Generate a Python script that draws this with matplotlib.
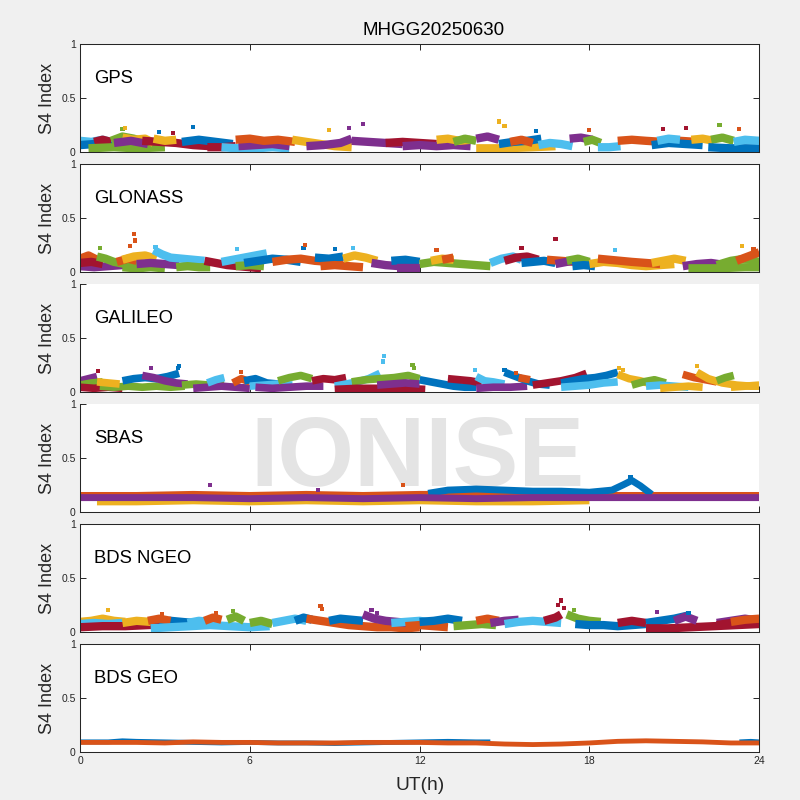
import matplotlib
matplotlib.use("Agg")
import matplotlib.pyplot as plt

plt.rcParams['font.family'] = ['Liberation Sans', 'DejaVu Sans']

TITLE = "MHGG20250630"
SYSTEMS = ["GPS", "GLONASS", "GALILEO", "SBAS", "BDS NGEO", "BDS GEO"]
X_TICKS = [0, 6, 12, 18, 24]
Y_TICKS = [0, 0.5, 1]
Y_TICK_LABELS = ["0", "0.5", "1"]
COLORS = ['#0072BD', '#D95319', '#EDB120', '#7E2F8E', '#77AC30', '#4DBEEE', '#A2142F']

# arcs: (colour index, UT hours, S4 values)
GPS_ARCS = [
    (5, [0, 0.4, 0.8, 1.2], [0.10, 0.09, 0.11, 0.08]),
    (0, [0, 0.5, 1.0, 1.4], [0.06, 0.07, 0.05, 0.06]),
    (6, [0.5, 0.8, 1.1], [0.09, 0.11, 0.09]),
    (4, [0.3, 1.2, 2.0, 3.0], [0.03, 0.04, 0.03, 0.04]),
    (4, [1.1, 1.5, 1.9, 2.3], [0.10, 0.14, 0.12, 0.09]),
    (2, [1.5, 1.9, 2.3, 2.6], [0.13, 0.11, 0.12, 0.08]),
    (3, [1.2, 1.8, 2.4], [0.08, 0.10, 0.07]),
    (6, [2.2, 2.8, 3.4, 4.0, 4.6], [0.10, 0.09, 0.08, 0.06, 0.05]),
    (2, [2.6, 3.0, 3.4], [0.12, 0.10, 0.11]),
    (0, [3.6, 4.2, 4.8, 5.4], [0.09, 0.11, 0.09, 0.07]),
    (6, [4.5, 5.0, 5.5], [0.04, 0.04, 0.05]),
    (5, [5.0, 5.6, 6.2, 6.8, 7.4], [0.04, 0.03, 0.03, 0.04, 0.03]),
    (3, [5.6, 6.2, 6.8, 7.4], [0.05, 0.06, 0.07, 0.05]),
    (1, [5.5, 6.0, 6.5, 7.0, 7.6], [0.11, 0.12, 0.10, 0.11, 0.09]),
    (2, [7.5, 8.0, 8.5, 9.0, 9.6], [0.11, 0.09, 0.07, 0.05, 0.04]),
    (3, [8.0, 8.6, 9.2, 9.6], [0.05, 0.06, 0.08, 0.12]),
    (3, [9.6, 10.2, 10.8, 11.4], [0.10, 0.09, 0.08, 0.07]),
    (6, [10.8, 11.4, 12.0, 12.6], [0.08, 0.09, 0.08, 0.07]),
    (3, [11.4, 12.0, 12.6, 13.2, 13.8], [0.05, 0.06, 0.05, 0.06, 0.05]),
    (2, [12.6, 13.0, 13.4, 13.8], [0.11, 0.12, 0.10, 0.11]),
    (4, [13.2, 13.6, 14.0], [0.09, 0.12, 0.10]),
    (3, [14.0, 14.4, 14.8], [0.12, 0.14, 0.11]),
    (2, [14.0, 15.0, 16.0, 16.8], [0.03, 0.03, 0.04, 0.05]),
    (0, [14.8, 15.3, 15.8, 16.3], [0.07, 0.09, 0.10, 0.12]),
    (1, [15.2, 15.6, 16.0], [0.09, 0.11, 0.08]),
    (5, [16.2, 16.6, 17.0, 17.4], [0.06, 0.08, 0.07, 0.05]),
    (3, [17.3, 17.7, 18.1], [0.12, 0.13, 0.11]),
    (4, [17.8, 18.1, 18.4], [0.09, 0.11, 0.08]),
    (5, [18.3, 18.7, 19.1], [0.04, 0.04, 0.05]),
    (1, [19.0, 19.5, 20.0, 20.6, 21.2, 21.8], [0.10, 0.11, 0.10, 0.09, 0.10, 0.09]),
    (0, [20.2, 20.8, 21.4, 22.0], [0.06, 0.08, 0.07, 0.06]),
    (5, [20.4, 20.8, 21.2], [0.10, 0.12, 0.11]),
    (2, [21.6, 22.0, 22.4], [0.11, 0.12, 0.10]),
    (4, [22.3, 22.7, 23.1], [0.11, 0.13, 0.10]),
    (0, [22.2, 23.0, 24.0], [0.04, 0.03, 0.03]),
    (5, [23.1, 23.5, 24.0], [0.09, 0.11, 0.10]),
]
GPS_OUT_T = [1.5, 1.6, 4.0, 8.8, 9.5, 10.0, 14.8, 15.0, 16.1, 18.0, 20.6, 21.4, 22.6, 23.3, 3.3, 2.8]
GPS_OUT_V = [0.21, 0.22, 0.23, 0.20, 0.22, 0.26, 0.28, 0.24, 0.19, 0.20, 0.21, 0.22, 0.25, 0.21, 0.17, 0.18]
GPS_OUT_C = [4, 2, 0, 2, 3, 3, 2, 2, 0, 1, 6, 6, 4, 1, 6, 0]

GLONASS_ARCS = [
    (1, [0, 0.3, 0.6], [0.12, 0.15, 0.11]),
    (3, [0, 0.5, 1.0, 1.5, 2.0], [0.05, 0.04, 0.05, 0.06, 0.05]),
    (6, [0, 0.4, 0.8], [0.08, 0.09, 0.07]),
    (4, [0.6, 0.9, 1.2, 1.6, 2.0], [0.14, 0.12, 0.09, 0.07, 0.06]),
    (4, [1.5, 2.0, 2.5, 3.0], [0.04, 0.03, 0.04, 0.03]),
    (1, [1.3, 1.7, 2.0], [0.09, 0.12, 0.10]),
    (2, [1.5, 1.9, 2.3, 2.7], [0.11, 0.14, 0.15, 0.12]),
    (3, [2.0, 2.5, 3.0, 3.5], [0.07, 0.08, 0.07, 0.06]),
    (5, [2.6, 2.9, 3.2, 3.6, 4.0, 4.4], [0.20, 0.16, 0.13, 0.12, 0.11, 0.10]),
    (4, [3.4, 3.8, 4.2, 4.6], [0.04, 0.05, 0.04, 0.04]),
    (6, [4.4, 4.8, 5.2, 5.6, 6.0, 6.4], [0.10, 0.08, 0.06, 0.05, 0.04, 0.03]),
    (5, [5.0, 5.4, 5.8, 6.2, 6.6], [0.09, 0.11, 0.13, 0.15, 0.17]),
    (4, [5.5, 6.0, 6.5], [0.05, 0.06, 0.05]),
    (0, [5.8, 6.3, 6.8, 7.3, 7.8], [0.08, 0.10, 0.12, 0.11, 0.09]),
    (1, [6.8, 7.3, 7.8, 8.3, 8.8, 9.3], [0.09, 0.11, 0.12, 0.10, 0.09, 0.08]),
    (0, [8.3, 8.8, 9.3], [0.13, 0.12, 0.14]),
    (1, [8.5, 9.0, 9.5, 10.0], [0.05, 0.06, 0.05, 0.04]),
    (2, [9.3, 9.7, 10.1, 10.5], [0.12, 0.15, 0.13, 0.10]),
    (3, [10.3, 10.8, 11.3, 11.8], [0.08, 0.06, 0.05, 0.04]),
    (0, [11.0, 11.5, 12.0], [0.10, 0.11, 0.09]),
    (3, [11.2, 11.6, 12.0], [0.03, 0.03, 0.03]),
    (4, [12.0, 12.5, 13.0, 13.5, 14.0, 14.5], [0.07, 0.09, 0.08, 0.07, 0.06, 0.05]),
    (2, [12.4, 12.8, 13.2], [0.10, 0.12, 0.11]),
    (1, [12.8, 13.2], [0.11, 0.13]),
    (5, [14.5, 14.9, 15.3, 15.6], [0.08, 0.12, 0.14, 0.11]),
    (6, [15.0, 15.4, 15.8, 16.2], [0.10, 0.13, 0.14, 0.11]),
    (0, [15.6, 16.0, 16.4, 16.8], [0.08, 0.09, 0.10, 0.08]),
    (1, [16.5, 17.0, 17.5], [0.11, 0.10, 0.09]),
    (3, [16.8, 17.2, 17.6, 18.0], [0.07, 0.09, 0.11, 0.08]),
    (4, [17.2, 17.6, 18.0], [0.10, 0.12, 0.09]),
    (0, [17.4, 17.8, 18.2], [0.05, 0.06, 0.05]),
    (2, [18.0, 18.5, 19.0, 19.5, 20.0, 20.5, 21.0], [0.07, 0.09, 0.08, 0.06, 0.05, 0.06, 0.07]),
    (1, [18.3, 18.7, 19.1, 19.5, 20.0, 20.5], [0.12, 0.11, 0.10, 0.09, 0.08, 0.07]),
    (2, [20.2, 20.6, 21.0, 21.4], [0.08, 0.10, 0.12, 0.10]),
    (3, [21.3, 21.8, 22.3, 22.8], [0.05, 0.07, 0.08, 0.06]),
    (4, [21.5, 22.5, 23.5, 24.0], [0.03, 0.03, 0.04, 0.04]),
    (4, [22.5, 23.0, 23.5, 24.0], [0.06, 0.10, 0.12, 0.09]),
    (1, [23.2, 23.6, 24.0], [0.10, 0.14, 0.18]),
]
GLONASS_OUT_T = [1.9, 1.95, 1.77, 7.9, 7.95, 9.66, 5.56, 12.6, 15.6, 16.8, 18.9, 23.4, 23.8, 0.72, 2.67, 9.0]
GLONASS_OUT_V = [0.35, 0.29, 0.24, 0.22, 0.25, 0.22, 0.21, 0.20, 0.22, 0.30, 0.20, 0.24, 0.21, 0.22, 0.23, 0.21]
GLONASS_OUT_C = [1, 1, 1, 0, 1, 5, 5, 1, 6, 6, 5, 2, 1, 4, 5, 0]

GALILEO_ARCS = [
    (3, [0, 0.3, 0.6], [0.10, 0.12, 0.14]),
    (4, [0, 0.4, 0.8], [0.06, 0.08, 0.09]),
    (6, [0, 0.5, 1.0, 1.5], [0.04, 0.03, 0.04, 0.03]),
    (4, [0.7, 1.2, 1.7, 2.2, 2.7, 3.2, 3.7], [0.05, 0.04, 0.05, 0.04, 0.05, 0.04, 0.05]),
    (2, [0.6, 1.0, 1.4], [0.09, 0.08, 0.07]),
    (0, [1.5, 1.9, 2.3, 2.7, 3.1, 3.5], [0.10, 0.12, 0.13, 0.12, 0.14, 0.17]),
    (3, [2.2, 2.6, 3.0, 3.4, 3.8], [0.15, 0.13, 0.10, 0.08, 0.07]),
    (4, [3.6, 4.1, 4.6, 5.1], [0.06, 0.07, 0.06, 0.07]),
    (3, [4.0, 4.5, 5.0, 5.5, 6.0], [0.03, 0.04, 0.05, 0.04, 0.03]),
    (5, [4.5, 4.8, 5.1], [0.08, 0.11, 0.13]),
    (1, [5.4, 5.7, 6.0], [0.08, 0.12, 0.09]),
    (0, [5.8, 6.2, 6.6, 7.0], [0.10, 0.12, 0.08, 0.07]),
    (5, [6.0, 6.5, 7.0, 7.5], [0.05, 0.06, 0.07, 0.06]),
    (3, [6.2, 6.8, 7.4, 8.0, 8.6], [0.04, 0.03, 0.04, 0.05, 0.05]),
    (4, [7.0, 7.4, 7.8, 8.2], [0.10, 0.13, 0.15, 0.12]),
    (6, [8.2, 8.6, 9.0, 9.4], [0.10, 0.12, 0.11, 0.13]),
    (5, [9.0, 9.4, 9.8, 10.2, 10.6], [0.05, 0.07, 0.09, 0.12, 0.17]),
    (4, [9.6, 10.1, 10.6, 11.1, 11.6, 12.0], [0.09, 0.11, 0.12, 0.13, 0.15, 0.12]),
    (6, [9.0, 9.8, 10.6, 11.4, 12.2], [0.02, 0.03, 0.03, 0.03, 0.02]),
    (3, [10.5, 11.0, 11.5, 12.0], [0.06, 0.07, 0.08, 0.07]),
    (0, [12.0, 12.4, 12.8, 13.2, 13.6, 14.0], [0.11, 0.09, 0.07, 0.05, 0.04, 0.04]),
    (6, [13.0, 13.4, 13.8, 14.2], [0.12, 0.11, 0.10, 0.08]),
    (5, [14.0, 14.3, 14.6, 15.0], [0.14, 0.10, 0.09, 0.07]),
    (3, [14.0, 14.6, 15.2, 15.8], [0.03, 0.04, 0.04, 0.05]),
    (0, [15.0, 15.4, 15.8, 16.2, 16.6], [0.18, 0.14, 0.10, 0.07, 0.06]),
    (1, [15.5, 15.9], [0.13, 0.11]),
    (6, [16.0, 16.5, 17.0, 17.5, 17.9], [0.06, 0.08, 0.10, 0.13, 0.17]),
    (0, [17.0, 17.4, 17.8, 18.2, 18.6, 19.0], [0.08, 0.10, 0.12, 0.13, 0.15, 0.18]),
    (5, [17.0, 17.5, 18.0, 18.5, 19.0], [0.04, 0.05, 0.06, 0.08, 0.09]),
    (2, [19.0, 19.4, 19.8, 20.2], [0.16, 0.12, 0.10, 0.07]),
    (4, [19.5, 19.9, 20.3, 20.7], [0.06, 0.09, 0.11, 0.08]),
    (5, [20.0, 20.5, 21.0, 21.5], [0.05, 0.06, 0.05, 0.04]),
    (2, [20.5, 21.0, 21.5, 22.0], [0.03, 0.04, 0.05, 0.04]),
    (1, [21.3, 21.7, 22.1, 22.5], [0.16, 0.13, 0.11, 0.09]),
    (2, [21.8, 22.2, 22.7, 23.2, 23.7, 24.0], [0.18, 0.12, 0.08, 0.06, 0.05, 0.05]),
    (4, [22.5, 22.8, 23.1], [0.10, 0.13, 0.15]),
    (2, [23.0, 23.5, 24.0], [0.04, 0.05, 0.06]),
]
GALILEO_OUT_T = [10.75, 10.7, 11.75, 11.8, 3.5, 3.45, 2.5, 0.65, 5.7, 13.95, 19.05, 19.2, 21.8, 15.4, 15.0]
GALILEO_OUT_V = [0.33, 0.28, 0.25, 0.22, 0.24, 0.22, 0.22, 0.19, 0.18, 0.20, 0.22, 0.20, 0.24, 0.17, 0.20]
GALILEO_OUT_C = [5, 5, 4, 4, 0, 0, 3, 6, 1, 5, 2, 2, 2, 1, 0]

SBAS_ARCS = [
    (2, [0.6, 2, 4, 6, 8, 10, 12, 14, 16, 18.0], [0.09, 0.09, 0.10, 0.09, 0.10, 0.09, 0.10, 0.09, 0.09, 0.10]),
    (1, [0, 2, 4, 6, 8, 10, 12, 14, 16, 18, 20, 22, 24], [0.15, 0.15, 0.16, 0.15, 0.16, 0.15, 0.16, 0.16, 0.15, 0.15, 0.15, 0.15, 0.15]),
    (0, [12.3, 13, 14, 15, 16, 17, 18, 18.8, 19.2, 19.5, 19.8, 20.2], [0.17, 0.20, 0.21, 0.20, 0.19, 0.19, 0.18, 0.20, 0.25, 0.29, 0.24, 0.16]),
    (3, [0, 2, 4, 6, 8, 10, 12, 14, 16, 18, 20, 22, 24], [0.13, 0.13, 0.13, 0.12, 0.13, 0.12, 0.13, 0.12, 0.13, 0.13, 0.13, 0.13, 0.13]),
]
SBAS_OUT_T = [4.6, 11.4, 8.4, 19.45]
SBAS_OUT_V = [0.25, 0.25, 0.20, 0.32]
SBAS_OUT_C = [3, 1, 3, 0]

BDSN_ARCS = [
    (2, [0, 0.4, 0.8, 1.2, 1.6], [0.09, 0.10, 0.12, 0.10, 0.09]),
    (5, [0, 0.5, 1.0, 1.5, 2.0], [0.07, 0.08, 0.07, 0.08, 0.06]),
    (6, [0, 0.8, 1.6, 2.4, 3.2, 4.0], [0.04, 0.05, 0.05, 0.06, 0.07, 0.08]),
    (2, [1.5, 2.0, 2.5], [0.08, 0.10, 0.09]),
    (0, [2.8, 3.2, 3.6, 4.0], [0.08, 0.10, 0.09, 0.08]),
    (1, [2.4, 2.8, 3.2], [0.10, 0.12, 0.10]),
    (5, [2.5, 3.2, 3.9, 4.6, 5.3, 6.0, 6.7], [0.03, 0.04, 0.05, 0.06, 0.05, 0.04, 0.05]),
    (5, [3.8, 4.2, 4.6], [0.08, 0.10, 0.09]),
    (1, [4.4, 4.7, 5.0], [0.10, 0.13, 0.11]),
    (4, [5.2, 5.5, 5.8], [0.11, 0.14, 0.10]),
    (4, [6.0, 6.4, 6.8], [0.08, 0.10, 0.07]),
    (5, [6.8, 7.2, 7.6, 8.0], [0.08, 0.10, 0.12, 0.10]),
    (0, [7.6, 7.9, 8.2], [0.10, 0.13, 0.11]),
    (1, [8.0, 8.5, 9.0, 9.5, 10.0, 10.5, 11.0, 11.5, 12.0], [0.12, 0.10, 0.08, 0.06, 0.05, 0.04, 0.04, 0.03, 0.04]),
    (0, [8.8, 9.2, 9.6, 10.0], [0.10, 0.12, 0.11, 0.10]),
    (3, [10.0, 10.4, 10.8, 11.2, 11.6], [0.16, 0.12, 0.10, 0.09, 0.08]),
    (5, [11.0, 11.5, 12.0, 12.5], [0.08, 0.09, 0.10, 0.08]),
    (1, [11.5, 12.0, 12.5, 13.0], [0.05, 0.06, 0.05, 0.04]),
    (0, [12.0, 12.5, 13.0, 13.5], [0.09, 0.10, 0.12, 0.10]),
    (4, [13.2, 13.7, 14.2, 14.7], [0.05, 0.06, 0.07, 0.06]),
    (1, [14.0, 14.4, 14.8], [0.10, 0.12, 0.10]),
    (3, [14.5, 15.0, 15.5], [0.08, 0.10, 0.11]),
    (5, [15.0, 15.5, 16.0, 16.5, 17.0], [0.07, 0.09, 0.10, 0.09, 0.08]),
    (6, [16.4, 16.8, 17.0], [0.10, 0.13, 0.16]),
    (4, [17.2, 17.6, 18.0, 18.4], [0.16, 0.12, 0.10, 0.09]),
    (0, [17.5, 18.0, 18.5, 19.0, 19.5, 20.0], [0.07, 0.06, 0.06, 0.05, 0.06, 0.07]),
    (6, [19.0, 19.5, 20.0], [0.08, 0.10, 0.08]),
    (0, [20.0, 20.5, 21.0, 21.5], [0.08, 0.10, 0.12, 0.15]),
    (6, [20.0, 20.8, 21.6, 22.4, 23.2, 24.0], [0.03, 0.03, 0.04, 0.05, 0.06, 0.07]),
    (3, [21.0, 21.4, 21.8], [0.10, 0.14, 0.10]),
    (3, [22.5, 23.0, 23.5, 24.0], [0.08, 0.10, 0.12, 0.10]),
    (6, [22.5, 23.0, 23.5, 24.0], [0.06, 0.08, 0.09, 0.10]),
    (1, [23.0, 23.5, 24.0], [0.09, 0.11, 0.12]),
]
BDSN_OUT_T = [1.0, 2.9, 4.8, 5.4, 8.5, 8.55, 10.3, 10.5, 17.0, 16.9, 17.1, 17.45, 20.4, 21.5]
BDSN_OUT_V = [0.20, 0.16, 0.17, 0.19, 0.24, 0.21, 0.20, 0.17, 0.29, 0.25, 0.22, 0.20, 0.18, 0.17]
BDSN_OUT_C = [2, 1, 1, 4, 1, 1, 3, 3, 6, 6, 6, 4, 3, 0]

BDSG_ARCS = [
    (0, [0, 1, 1.5, 2, 3, 4, 5, 6, 7, 8, 9, 10, 11, 12, 13, 14, 14.5],
        [0.09, 0.09, 0.10, 0.095, 0.09, 0.085, 0.08, 0.085, 0.08, 0.08, 0.075, 0.08, 0.085, 0.09, 0.095, 0.09, 0.09]),
    (0, [23.3, 23.7, 24.0], [0.09, 0.095, 0.09]),
    (1, [0, 1, 2, 3, 4, 5, 6, 7, 8, 9, 10, 11, 12, 13, 14, 15, 16, 17, 18, 19, 20, 21, 22, 23, 24],
        [0.085, 0.085, 0.085, 0.08, 0.09, 0.085, 0.085, 0.08, 0.08, 0.08, 0.085, 0.085, 0.085, 0.08, 0.08,
         0.07, 0.065, 0.07, 0.08, 0.095, 0.10, 0.095, 0.09, 0.08, 0.08]),
]

ALL_ARCS = [GPS_ARCS, GLONASS_ARCS, GALILEO_ARCS, SBAS_ARCS, BDSN_ARCS, BDSG_ARCS]
ALL_OUT = [(GPS_OUT_T, GPS_OUT_V, GPS_OUT_C), (GLONASS_OUT_T, GLONASS_OUT_V, GLONASS_OUT_C),
           (GALILEO_OUT_T, GALILEO_OUT_V, GALILEO_OUT_C), (SBAS_OUT_T, SBAS_OUT_V, SBAS_OUT_C),
           (BDSN_OUT_T, BDSN_OUT_V, BDSN_OUT_C), ([], [], [])]
BOX_ON = [True, True, False, False, True, True]
LINE_W = [6.0, 6.0, 5.5, 5.0, 6.0, 3.5]

AXC = '#262626'
fig = plt.figure(figsize=(8, 8), dpi=100, facecolor='#f0f0f0')
bottoms = [0.8106, 0.6606, 0.5106, 0.3606, 0.2106, 0.0606]
axes = []
for k, name in enumerate(SYSTEMS):
    ax = fig.add_axes([0.1, bottoms[k], 0.849, 0.1338])
    axes.append(ax)
    for c, t, v in ALL_ARCS[k]:
        ax.plot(t, v, color=COLORS[c], lw=LINE_W[k], solid_capstyle='butt',
                solid_joinstyle='round', zorder=2)
    ot, ov, oc = ALL_OUT[k]
    if ot:
        ax.scatter(ot, ov, c=[COLORS[i] for i in oc], marker='s', s=9, linewidths=0, zorder=3)
    ax.set_xlim(0, 24)
    ax.set_ylim(0, 1)
    ax.set_xticks(X_TICKS)
    ax.set_yticks(Y_TICKS)
    ax.set_yticklabels(Y_TICK_LABELS)
    box = BOX_ON[k]
    ax.tick_params(direction='in', length=4.3, width=0.7, colors=AXC, labelsize=7.5,
                   top=box, right=box, pad=3)
    for s in ax.spines.values():
        s.set_color(AXC)
        s.set_linewidth(0.75)
    if not box:
        ax.spines['top'].set_visible(False)
        ax.spines['right'].set_visible(False)
    if k < 5:
        ax.tick_params(labelbottom=False)
    ax.text(0.021, 0.637, name, transform=ax.transAxes, fontsize=13.3, va='baseline', ha='left', color='black')
    ax.set_ylabel("S4 Index", fontsize=13, color=AXC, va='center')
    ax.yaxis.set_label_coords(-0.0475, 0.5)

# watermark
axes[3].text(0.522, 0.392, "IONISE", transform=fig.transFigure, fontsize=71, fontweight='bold',
             color='#e4e4e4', ha='center', va='baseline', zorder=0.5, clip_on=False)

fig.text(434 / 800, 1 - 35 / 800, TITLE, ha='center', va='baseline', fontsize=13.5, color='black')
fig.text(420 / 800, 1 - 790 / 800, "UT(h)", ha='center', va='baseline', fontsize=13.8, color=AXC)

fig.savefig('out.png', dpi=100, facecolor=fig.get_facecolor())
